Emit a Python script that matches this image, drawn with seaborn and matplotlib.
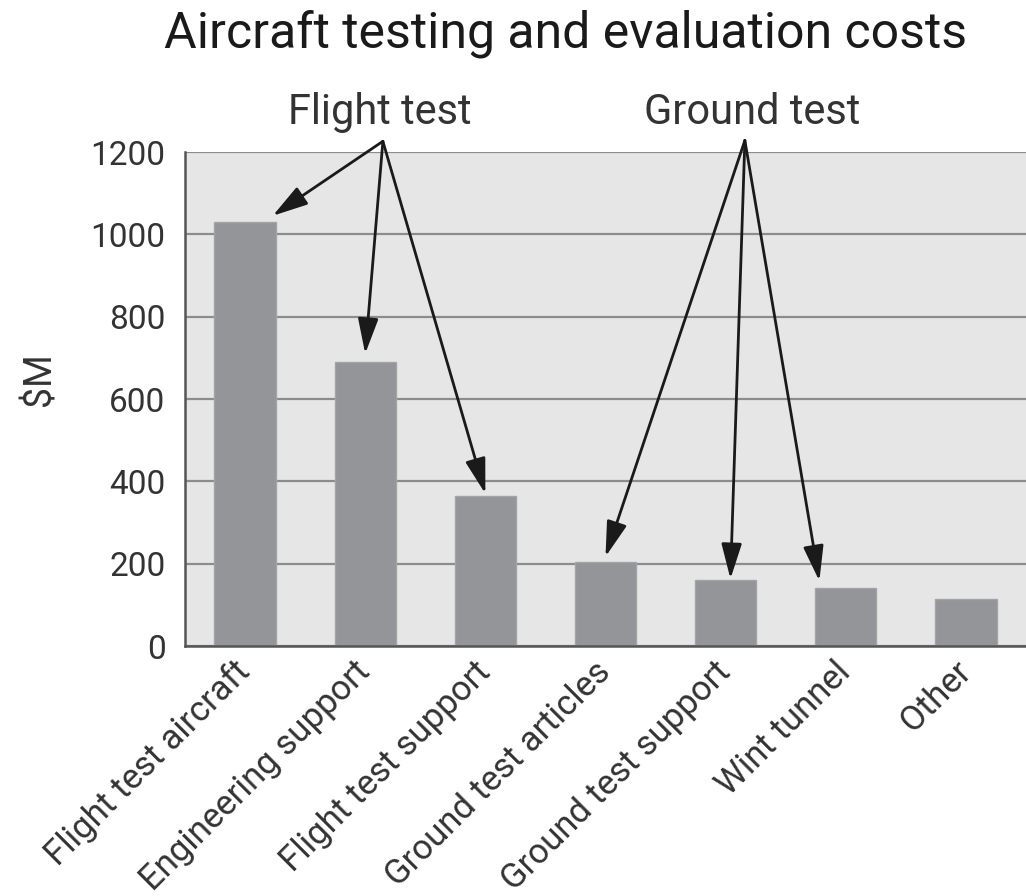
import numpy as np
import pandas as pd
import matplotlib
matplotlib.use("Agg")
import matplotlib.pyplot as plt
import seaborn as sns

# ---------- DATA ----------
categories = [
    "Flight test aircraft",
    "Engineering support",
    "Flight test support",
    "Ground test articles",
    "Ground test support",
    "Wint tunnel",
    "Other",
]
costs = [1030, 690, 365, 205, 160, 140, 115]
y_ticks = [0, 200, 400, 600, 800, 1000, 1200]

# which bars each group label points to
flight_group = [0, 1, 2]
ground_group = [3, 4, 5]

# ---------- STYLE ----------
sns.set_style("white", {"axes.facecolor": "#E6E6E6"})
plt.rcParams["font.family"] = ["Roboto", "DejaVu Sans"]

BAR = "#939598"
TXT = "#333333"
AX = "#555555"

df = pd.DataFrame({"Category": categories, "Cost": costs})

fig = plt.figure(figsize=(10.26, 8.96), dpi=100)
ax = fig.add_axes([185 / 1026, 250 / 896, 841 / 1026, 494 / 896])

sns.barplot(data=df, x="Category", y="Cost", color=BAR, saturation=1,
            width=0.51, ax=ax, zorder=2, edgecolor="#a3a4a7", linewidth=1)

ax.set_xlim(-0.5, 6.41)
ax.set_ylim(0, 1200)
ax.set_yticks(y_ticks)
ax.set_yticklabels([str(t) for t in y_ticks], fontsize=24, color=TXT)
ax.grid(axis="y", color="#8c8c8c", lw=1.6)
ax.set_axisbelow(True)

# labels at bar centres, tick marks on the category boundaries
ax.set_xticks(range(len(categories)))
ax.set_xticklabels(categories, rotation=45, ha="right", va="center",
                   rotation_mode="anchor", fontsize=25, color=TXT)
ax.set_xticks(np.arange(-0.5, len(categories), 1.0), minor=True)
ax.tick_params(axis="x", which="major", length=0, pad=15)
ax.tick_params(axis="x", which="minor", length=12, width=1.5, color=AX)
ax.tick_params(axis="y", length=10, width=1.5, color=AX, pad=4)

for side in ["top", "right"]:
    ax.spines[side].set_visible(False)
for side in ["left", "bottom"]:
    ax.spines[side].set_color(AX)
    ax.spines[side].set_linewidth(1.8)

ax.set_xlabel("")
ax.set_ylabel("$M", fontsize=27, color=TXT)
ax.yaxis.set_label_coords(-0.15, 0.54)

fig.text(0.551, 1 - 48 / 896, "Aircraft testing and evaluation costs",
         ha="center", va="baseline", fontsize=36, color="#1a1a1a")

# ---------- GROUP ARROWS ----------
arrow_kw = dict(arrowstyle="-|>,head_length=0.9,head_width=0.26",
                color="#1a1a1a", lw=2, shrinkA=0, shrinkB=0,
                mutation_scale=24)

ax.text(1.12, 1269, "Flight test", ha="center", va="baseline",
        fontsize=30, color=TXT)
ax.text(4.22, 1269, "Ground test", ha="center", va="baseline",
        fontsize=30, color=TXT)

flight_apex = (1.147, 1226)
ground_apex = (4.16, 1228)
flight_tips = [(0.23, 15), (0.0, 20), (0.0, 5)]
ground_tips = [(0.0, 12), (0.04, 3), (-0.22, 18)]

for i, (dx, dy) in zip(flight_group, flight_tips):
    ax.annotate("", xy=(i + dx, costs[i] + dy), xytext=flight_apex,
                arrowprops=arrow_kw, annotation_clip=False)
for i, (dx, dy) in zip(ground_group, ground_tips):
    ax.annotate("", xy=(i + dx, costs[i] + dy), xytext=ground_apex,
                arrowprops=arrow_kw, annotation_clip=False)

fig.savefig("out.png", dpi=100)
